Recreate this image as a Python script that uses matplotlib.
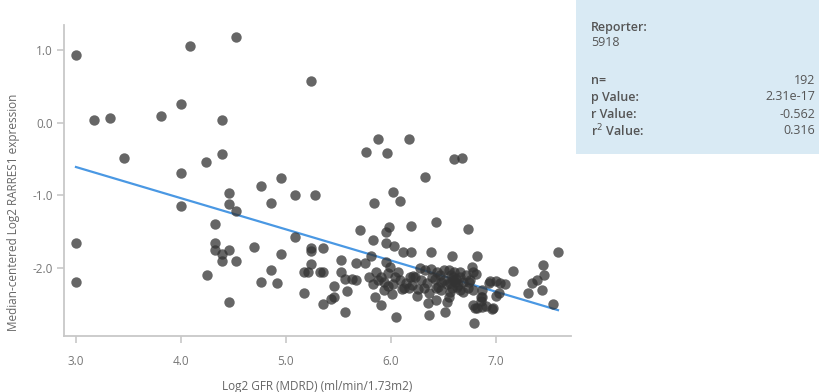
import matplotlib
matplotlib.use("Agg")
import matplotlib.pyplot as plt
from matplotlib.patches import Rectangle

plt.rcParams['font.family'] = ['Open Sans', 'DejaVu Sans']

# ---- data ----
gfr = [3.00, 4.09, 4.52, 5.24, 4.00, 3.17, 3.32, 3.81, 4.39, 3.46,
       4.39, 4.24, 4.00, 4.76, 4.95, 3.00, 3.00, 4.00, 4.46, 4.46,
       4.52, 4.86, 5.09, 5.28, 4.32, 4.32, 4.32, 4.39, 4.39, 4.46,
       4.52, 4.25, 4.46, 4.70, 4.95, 4.86, 4.76, 4.91, 5.09, 5.24,
       5.24, 5.35, 5.24, 5.17, 5.21, 5.32, 5.35, 5.17, 5.35, 5.52,
       5.52, 5.56, 5.46, 5.46, 5.43, 5.56, 5.58, 5.88, 6.17, 5.76,
       5.96, 6.60, 6.68, 6.32, 6.02, 5.84, 6.09, 5.70, 5.98, 5.95,
       6.19, 6.43, 6.73, 5.83, 5.95, 6.03, 6.11, 6.19, 6.38, 5.81,
       5.67, 5.75, 5.63, 5.67, 5.95, 5.99, 5.86, 5.90, 5.93, 5.93,
       5.83, 5.85, 5.90, 6.07, 6.09, 6.02, 6.10, 6.18, 6.17, 6.23,
       6.26, 6.34, 6.36, 6.42, 6.45, 6.48, 6.43, 6.53, 6.51, 6.36,
       6.05, 7.59, 6.58, 6.82, 6.77, 6.78, 6.81, 7.16, 7.45, 7.46,
       7.39, 7.34, 7.44, 7.30, 7.54, 6.94, 7.00, 7.04, 7.09, 6.87,
       7.03, 7.00, 6.87, 6.86, 6.78, 6.82, 6.87, 6.97, 6.79, 6.59,
       6.50, 6.55, 6.66, 6.69, 6.74, 6.63, 6.69, 6.78, 6.48, 6.56,
       6.12, 6.20, 6.31, 6.43, 6.59, 6.61, 6.64, 6.56, 6.58, 6.75,
       6.50, 6.80, 6.90, 6.96, 6.86, 6.28, 6.32, 6.39, 6.38, 6.21,
       6.04, 5.97, 5.88, 6.60, 6.62, 6.57, 6.53, 6.66, 6.71, 6.47,
       6.14, 6.29, 5.79, 6.01, 6.25, 6.73, 6.55, 6.66, 6.44, 5.97,
       6.93, 6.35]
expr = [0.93, 1.06, 1.18, 0.58, 0.26, 0.04, 0.07, 0.09, 0.04, -0.49,
        -0.43, -0.54, -0.69, -0.87, -0.76, -1.66, -2.19, -1.14, -0.97, -1.12,
        -1.21, -1.11, -1.00, -0.99, -1.39, -1.66, -1.75, -1.81, -1.90, -1.75,
        -1.90, -2.09, -2.47, -1.71, -1.81, -2.03, -2.19, -2.21, -1.57, -1.73,
        -1.77, -1.72, -1.95, -2.05, -2.06, -2.06, -2.06, -2.35, -2.50, -1.89,
        -2.06, -2.15, -2.25, -2.40, -2.43, -2.61, -2.32, -0.23, -0.23, -0.41,
        -0.42, -0.50, -0.48, -0.75, -0.96, -1.10, -1.08, -1.47, -1.43, -1.51,
        -1.42, -1.37, -1.46, -1.62, -1.65, -1.70, -1.78, -1.78, -1.78, -1.84,
        -1.93, -1.93, -2.15, -2.16, -1.92, -1.98, -2.06, -2.13, -2.19, -2.30,
        -2.22, -2.40, -2.51, -2.05, -2.16, -2.22, -2.29, -2.12, -2.27, -2.12,
        -2.29, -2.21, -2.34, -2.15, -2.26, -2.19, -2.44, -2.47, -2.60, -2.64,
        -2.68, -1.78, -1.83, -1.84, -1.99, -2.05, -2.08, -2.04, -1.96, -2.10,
        -2.17, -2.20, -2.30, -2.34, -2.50, -2.18, -2.18, -2.21, -2.22, -2.30,
        -2.35, -2.38, -2.40, -2.45, -2.51, -2.55, -2.54, -2.55, -2.76, -2.17,
        -2.03, -2.03, -2.12, -2.19, -2.19, -2.26, -2.33, -2.30, -2.30, -2.33,
        -2.28, -2.23, -2.28, -2.27, -2.12, -2.19, -2.23, -2.20, -2.28, -2.17,
        -2.16, -2.55, -2.52, -2.57, -2.40, -2.00, -2.03, -2.12, -2.02, -2.11,
        -2.12, -2.07, -2.17, -2.05, -2.15, -2.10, -2.22, -2.30, -2.10, -2.10,
        -2.20, -2.17, -2.13, -2.36, -2.38, -2.27, -2.40, -2.05, -2.06, -2.25,
        -2.20, -2.48]

fit_slope = -0.429
fit_intercept = 0.677

x_ticks = [3.0, 4.0, 5.0, 6.0, 7.0]
y_ticks = [1.0, 0.0, -1.0, -2.0]

reporter = "5918"
stat_labels = ["n=", "p Value:", "r Value:", "r$^2$ Value:"]
stat_values = ["192", "2.31e-17", "-0.562", "0.316"]

# ---- figure ----
W, H = 820, 392
fig = plt.figure(figsize=(W / 100, H / 100), dpi=100)
ax = fig.add_axes([64 / W, 1 - 336 / H, (571 - 64) / W, (336 - 25) / H])

ax.scatter(gfr, expr, s=56, color='#333333', alpha=0.75, linewidths=0, zorder=3)

x0, x1 = min(gfr), max(gfr)
ax.plot([x0, x1], [fit_intercept + fit_slope * x0, fit_intercept + fit_slope * x1],
        color='#4a98e3', lw=1.6, zorder=2)

ax.set_xlim(2.886, 7.714)
ax.set_ylim(-2.935, 1.344)
ax.set_xticks(x_ticks)
ax.set_xticklabels([f"{v:.1f}" for v in x_ticks])
ax.set_yticks(y_ticks)
ax.set_yticklabels([f"{v:.1f}" for v in y_ticks])

for s in ['top', 'right']:
    ax.spines[s].set_visible(False)
for s in ['left', 'bottom']:
    ax.spines[s].set_color('#c8c8c8')
    ax.spines[s].set_linewidth(1.3)
ax.tick_params(axis='both', colors='#c8c8c8', length=5, width=1.2,
               labelcolor='#777777', labelsize=8.5)
ax.tick_params(axis='x', pad=9)
ax.tick_params(axis='y', pad=3)

ax.set_xlabel("Log2 GFR (MDRD) (ml/min/1.73m2)", color='#666666', fontsize=8.5, labelpad=8)
ax.set_ylabel("Median-centered Log2 RARRES1 expression", color='#666666', fontsize=8.5)
ax.yaxis.set_label_coords((14 - 64) / 507, (336 - 212) / 311)
ax.yaxis.label.set_va('center')

# ---- info box ----
fig.patches.append(Rectangle((576 / W, 1 - 154 / H), (W - 576) / W, 154 / H,
                             transform=fig.transFigure, facecolor='#d9eaf4',
                             edgecolor='none', zorder=0))
tc = '#555555'
fig.text(591 / W, 1 - 27 / H, "Reporter:", color=tc, fontsize=9, fontweight='semibold', va='center')
fig.text(591 / W, 1 - 43 / H, reporter, color=tc, fontsize=9, va='center')
for i, (lab, val) in enumerate(zip(stat_labels, stat_values)):
    yy = 1 - (80 + 17 * i) / H
    fig.text(591 / W, yy, lab, color=tc, fontsize=9, fontweight='semibold', va='center')
    fig.text(815 / W, yy, val, color=tc, fontsize=9, va='center', ha='right')

fig.savefig("out.png", dpi=100)
